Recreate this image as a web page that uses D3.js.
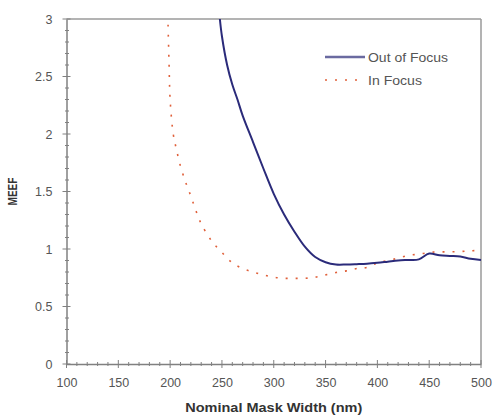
<!DOCTYPE html>
<html>
<head>
<meta charset="utf-8">
<script src="https://cdn.jsdelivr.net/npm/d3@7/dist/d3.min.js"></script>
<style>
  html, body { margin: 0; padding: 0; background: #fff; }
  svg { display: block; font-family: "Liberation Sans", Arial, sans-serif; }
</style>
</head>
<body>
<svg id="chart" width="494" height="417"></svg>
<script>
// Mask width (nm) and MEEF, out-of-focus series
const outFocusWidth = [248, 250, 255, 260, 265, 270, 280, 290, 300, 310, 320, 330, 340, 350, 360, 370, 380, 390, 400, 410, 420, 430, 440, 450, 460, 470, 480, 490, 500];
const outFocusMeef  = [3.0, 2.85, 2.60, 2.43, 2.30, 2.16, 1.93, 1.70, 1.48, 1.30, 1.15, 1.02, 0.93, 0.885, 0.865, 0.865, 0.868, 0.872, 0.88, 0.89, 0.90, 0.905, 0.91, 0.96, 0.945, 0.94, 0.935, 0.915, 0.905];

// Mask width (nm) and MEEF, in-focus series
const inFocusWidth = [198, 199, 200, 203, 206, 210, 215, 220, 225, 230, 240, 250, 260, 270, 280, 290, 300, 310, 320, 330, 340, 350, 360, 370, 380, 390, 400, 410, 420, 430, 440, 450, 460, 470, 480, 490, 500];
const inFocusMeef  = [2.95, 2.6, 2.3, 2.0, 1.87, 1.72, 1.58, 1.46, 1.33, 1.22, 1.07, 0.97, 0.88, 0.83, 0.80, 0.775, 0.755, 0.745, 0.745, 0.745, 0.755, 0.775, 0.795, 0.81, 0.83, 0.84, 0.88, 0.90, 0.92, 0.945, 0.955, 0.97, 0.975, 0.975, 0.978, 0.985, 0.985];

const xTicks = [100, 150, 200, 250, 300, 350, 400, 450, 500];
const yTicks = [0, 0.5, 1, 1.5, 2, 2.5, 3];
const seriesNames = ["Out of Focus", "In Focus"];

const svg = d3.select("#chart");
const m = { left: 66.5, right: 481, top: 19, bottom: 364 };

const x = d3.scaleLinear().domain([100, 500]).range([m.left, m.right]);
const y = d3.scaleLinear().domain([0, 3]).range([m.bottom, m.top]);

// frame: light top and right edges
svg.append("line").attr("x1", m.left).attr("x2", m.right).attr("y1", m.top).attr("y2", m.top)
  .attr("stroke", "#9a9a9a").attr("stroke-width", 1.5);
svg.append("line").attr("x1", m.right).attr("x2", m.right).attr("y1", m.top).attr("y2", m.bottom)
  .attr("stroke", "#9a9a9a").attr("stroke-width", 1.5);

const axisColor = "#808080";
const labelColor = "#555";

// y axis: major crossing ticks plus minor ticks every 0.1
const yAxis = svg.append("g").attr("transform", `translate(${m.left},0)`)
  .call(d3.axisLeft(y).tickValues(yTicks).tickSize(0).tickPadding(14)
    .tickFormat(d => d3.format("")(d)));
yAxis.select(".domain").attr("stroke", axisColor).attr("stroke-width", 1.5);
yAxis.selectAll("text").attr("font-size", 12.5).attr("fill", labelColor);
const yMinor = d3.range(0, 3.0001, 0.1).map(v => +v.toFixed(1));
svg.append("g").selectAll("line").data(yMinor).join("line")
  .attr("x1", d => yTicks.includes(d) ? m.left - 4 : m.left - 1.5)
  .attr("x2", d => yTicks.includes(d) ? m.left + 4 : m.left + 2.5)
  .attr("y1", d => y(d)).attr("y2", d => y(d))
  .attr("stroke", axisColor).attr("stroke-width", 1);

// x axis: major crossing ticks plus minor ticks every 10 nm
const xAxis = svg.append("g").attr("transform", `translate(0,${m.bottom})`)
  .call(d3.axisBottom(x).tickValues(xTicks).tickSize(0).tickPadding(14));
xAxis.select(".domain").attr("stroke", axisColor).attr("stroke-width", 1.5);
xAxis.selectAll("text").attr("font-size", 12.5).attr("fill", labelColor);
const xMinor = d3.range(100, 501, 10);
svg.append("g").selectAll("line").data(xMinor).join("line")
  .attr("x1", d => x(d)).attr("x2", d => x(d))
  .attr("y1", d => xTicks.includes(d) ? m.bottom - 4 : m.bottom - 2)
  .attr("y2", d => xTicks.includes(d) ? m.bottom + 4 : m.bottom + 2)
  .attr("stroke", axisColor).attr("stroke-width", 1);

// axis titles
svg.append("text").attr("x", (m.left + m.right) / 2).attr("y", 412)
  .attr("text-anchor", "middle").attr("font-size", 13).attr("font-weight", "bold")
  .attr("textLength", 177).attr("lengthAdjust", "spacingAndGlyphs")
  .attr("fill", "#333").text("Nominal Mask Width (nm)");
svg.append("text").attr("transform", `translate(17,${(m.top + m.bottom) / 2}) rotate(-90)`)
  .attr("text-anchor", "middle").attr("font-size", 12.5).attr("font-weight", "bold")
  .attr("textLength", 28).attr("lengthAdjust", "spacingAndGlyphs")
  .attr("fill", "#333").text("MEEF");

// curves
const line = d3.line().x(d => x(d[0])).y(d => y(d[1])).curve(d3.curveCatmullRom);
const outPts = outFocusWidth.map((w, i) => [w, outFocusMeef[i]]);
const inPts = inFocusWidth.map((w, i) => [w, inFocusMeef[i]]);

svg.append("path").datum(inPts).attr("d", line)
  .attr("fill", "none").attr("stroke", "#e0603a").attr("stroke-width", 1.6)
  .attr("stroke-dasharray", "2,8");
svg.append("path").datum(outPts).attr("d", line)
  .attr("fill", "none").attr("stroke", "#2b2b7a").attr("stroke-width", 2);

// legend
const legend = svg.append("g");
const legendStyles = [
  { stroke: "#6a6aa0", width: 2.5, dash: null, y: 57, len: 80 },
  { stroke: "#e0603a", width: 1.6, dash: "2,8", y: 80, len: 54 }
];
seriesNames.forEach((name, i) => {
  const s = legendStyles[i];
  legend.append("line").attr("x1", 325).attr("x2", 365).attr("y1", s.y).attr("y2", s.y)
    .attr("stroke", s.stroke).attr("stroke-width", s.width)
    .attr("stroke-dasharray", s.dash);
  legend.append("text").attr("x", 368).attr("y", s.y + 4.5).attr("font-size", 13)
    .attr("textLength", s.len).attr("lengthAdjust", "spacingAndGlyphs")
    .attr("fill", labelColor).text(name);
});
</script>
</body>
</html>
